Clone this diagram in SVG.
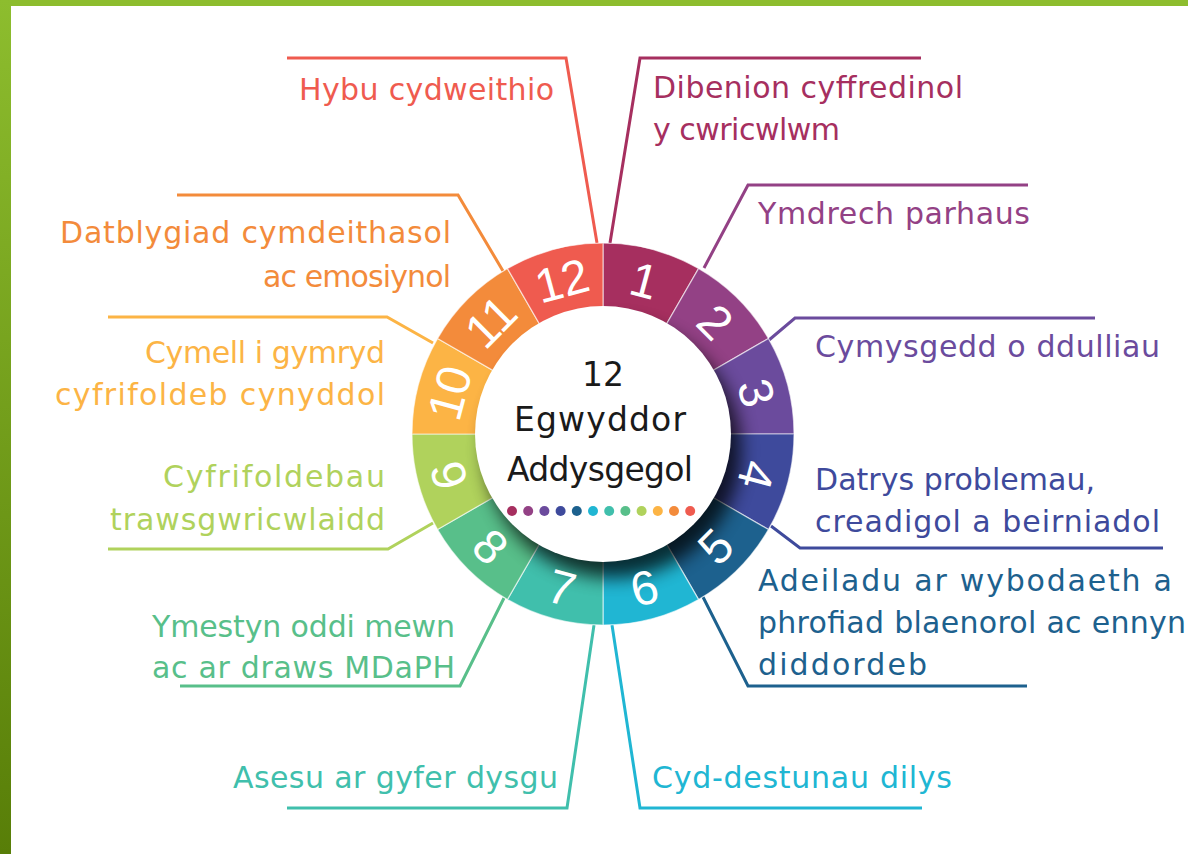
<svg xmlns="http://www.w3.org/2000/svg" width="1188" height="854" viewBox="0 0 1188 854">
<defs>
<linearGradient id="gL" x1="0" y1="0" x2="0" y2="1">
<stop offset="0" stop-color="#8dbd2e"/>
<stop offset="1" stop-color="#587e08"/>
</linearGradient>
<filter id="sh" x="-30%" y="-30%" width="160%" height="160%">
<feGaussianBlur stdDeviation="9"/>
</filter>
<style>
.lbl{font-family:"DejaVu Sans","Liberation Sans",sans-serif;font-size:30px;}
.num{font-family:"Liberation Sans",Arial,sans-serif;font-size:48px;fill:#ffffff;text-anchor:middle;}
.ctr{font-family:"DejaVu Sans","Liberation Sans",sans-serif;font-size:33px;fill:#1a1a1a;text-anchor:middle;}
.seg{stroke:#ffffff;stroke-width:1.2;stroke-opacity:0.6;}
.ld{fill:none;stroke-width:3;stroke-linejoin:miter;}
.f1{fill:#a62f5f}.f2{fill:#934185}.f3{fill:#6b4b9d}.f4{fill:#3e4a9c}.f5{fill:#1d618e}.f6{fill:#20b6d3}
.f7{fill:#40bfac}.f8{fill:#58bf8a}.f9{fill:#b0d25c}.f10{fill:#fcb445}.f11{fill:#f38b3b}.f12{fill:#ef5b4f}
.s1{stroke:#a62f5f}.s2{stroke:#934185}.s3{stroke:#6b4b9d}.s4{stroke:#3e4a9c}.s5{stroke:#1d618e}.s6{stroke:#20b6d3}
.s7{stroke:#40bfac}.s8{stroke:#58bf8a}.s9{stroke:#b0d25c}.s10{stroke:#fcb445}.s11{stroke:#f38b3b}.s12{stroke:#ef5b4f}
</style>
</defs>
<rect x="0" y="0" width="1188" height="854" fill="#ffffff"/>
<rect x="0" y="0" width="1188" height="6" fill="#8dbd2e"/>
<rect x="0" y="0" width="11" height="854" fill="url(#gL)"/>

<g id="connectors">
<polyline class="ld s12" points="287,58 566,58 597,243"/>
<polyline class="ld s1" points="921,58 640,58 610,243"/>
<polyline class="ld s2" points="1028,185 748,185 704,268"/>
<polyline class="ld s3" points="1095,318 795,318 769,340"/>
<polyline class="ld s4" points="1163,548 800,548 771,526"/>
<polyline class="ld s5" points="1027,686 748,686 703,597"/>
<polyline class="ld s6" points="922,808 640,808 612,625"/>
<polyline class="ld s7" points="287,808 567,808 594,625"/>
<polyline class="ld s8" points="180,686 460,686 504,598"/>
<polyline class="ld s9" points="108,549 388,549 433,523"/>
<polyline class="ld s10" points="108,317 387,317 433,343"/>
<polyline class="ld s11" points="177,195 458,195 503,271"/>
</g>

<g id="wheel">
<path class="seg f1" d="M603,434 L603,243 A191,191 0 0 1 698.5,268.6 Z"/>
<path class="seg f2" d="M603,434 L698.5,268.6 A191,191 0 0 1 768.4,338.5 Z"/>
<path class="seg f3" d="M603,434 L768.4,338.5 A191,191 0 0 1 794,434 Z"/>
<path class="seg f4" d="M603,434 L794,434 A191,191 0 0 1 768.4,529.5 Z"/>
<path class="seg f5" d="M603,434 L768.4,529.5 A191,191 0 0 1 698.5,599.4 Z"/>
<path class="seg f6" d="M603,434 L698.5,599.4 A191,191 0 0 1 603,625 Z"/>
<path class="seg f7" d="M603,434 L603,625 A191,191 0 0 1 507.5,599.4 Z"/>
<path class="seg f8" d="M603,434 L507.5,599.4 A191,191 0 0 1 437.6,529.5 Z"/>
<path class="seg f9" d="M603,434 L437.6,529.5 A191,191 0 0 1 412,434 Z"/>
<path class="seg f10" d="M603,434 L412,434 A191,191 0 0 1 437.6,338.5 Z"/>
<path class="seg f11" d="M603,434 L437.6,338.5 A191,191 0 0 1 507.5,268.6 Z"/>
<path class="seg f12" d="M603,434 L507.5,268.6 A191,191 0 0 1 603,243 Z"/>
<circle cx="613" cy="450" r="128" fill="#000000" opacity="0.75" filter="url(#sh)"/>
<circle cx="603" cy="434" r="128" fill="#ffffff"/>
</g>

<g id="numbers">
<text class="num" transform="translate(644.2,280.4) rotate(15)" y="17">1</text>
<text class="num" transform="translate(715.4,321.6) rotate(45)" y="17">2</text>
<text class="num" transform="translate(756.6,392.8) rotate(75)" y="17">3</text>
<text class="num" transform="translate(756.6,475.2) rotate(105)" y="17">4</text>
<text class="num" transform="translate(715.4,546.4) rotate(-45)" y="17">5</text>
<text class="num" transform="translate(644.2,587.6) rotate(-15)" y="17">6</text>
<text class="num" transform="translate(561.8,587.6) rotate(15)" y="17">7</text>
<text class="num" transform="translate(490.6,546.4) rotate(45)" y="17">8</text>
<text class="num" transform="translate(449.4,475.2) rotate(75)" y="17">9</text>
<text class="num" transform="translate(449.4,392.8) rotate(-75)" y="17">10</text>
<text class="num" transform="translate(490.6,321.6) rotate(-45)" y="17">11</text>
<text class="num" transform="translate(561.8,280.4) rotate(-15)" y="17">12</text>
</g>

<g id="center">
<text class="ctr" x="603" y="386">12</text>
<text class="ctr" x="600" y="431" textLength="172">Egwyddor</text>
<text class="ctr" x="600" y="481" textLength="186">Addysgegol</text>
<circle cx="512" cy="511" r="5" class="f1"/>
<circle cx="528.2" cy="511" r="5" class="f2"/>
<circle cx="544.4" cy="511" r="5" class="f3"/>
<circle cx="560.6" cy="511" r="5" class="f4"/>
<circle cx="576.8" cy="511" r="5" class="f5"/>
<circle cx="593" cy="511" r="5" class="f6"/>
<circle cx="609.2" cy="511" r="5" class="f7"/>
<circle cx="625.4" cy="511" r="5" class="f8"/>
<circle cx="641.6" cy="511" r="5" class="f9"/>
<circle cx="657.8" cy="511" r="5" class="f10"/>
<circle cx="674" cy="511" r="5" class="f11"/>
<circle cx="690.2" cy="511" r="5" class="f12"/>
</g>

<g id="label-12"><text class="lbl f12" x="299" y="100" textLength="255">Hybu cydweithio</text></g>
<g id="label-1">
<text class="lbl f1" x="653" y="98" textLength="310">Dibenion cyffredinol</text>
<text class="lbl f1" x="653" y="140" textLength="187">y cwricwlwm</text>
</g>
<g id="label-2"><text class="lbl f2" x="758" y="224" textLength="272">Ymdrech parhaus</text></g>
<g id="label-3"><text class="lbl f3" x="815" y="357" textLength="345">Cymysgedd o ddulliau</text></g>
<g id="label-4">
<text class="lbl f4" x="815" y="490" textLength="280">Datrys problemau,</text>
<text class="lbl f4" x="815" y="532" textLength="345">creadigol a beirniadol</text>
</g>
<g id="label-5">
<text class="lbl f5" x="758" y="591" textLength="414">Adeiladu ar wybodaeth a</text>
<text class="lbl f5" x="758" y="633" textLength="428">phrofiad blaenorol ac ennyn</text>
<text class="lbl f5" x="758" y="675" textLength="169">diddordeb</text>
</g>
<g id="label-6"><text class="lbl f6" x="652" y="788" textLength="300">Cyd-destunau dilys</text></g>
<g id="label-7"><text class="lbl f7" x="233" y="788" textLength="325">Asesu ar gyfer dysgu</text></g>
<g id="label-8">
<text class="lbl f8" x="152" y="637" textLength="303">Ymestyn oddi mewn</text>
<text class="lbl f8" x="152" y="678" textLength="303">ac ar draws MDaPH</text>
</g>
<g id="label-9">
<text class="lbl f9" x="163" y="487" textLength="222">Cyfrifoldebau</text>
<text class="lbl f9" x="110" y="530" textLength="275">trawsgwricwlaidd</text>
</g>
<g id="label-10">
<text class="lbl f10" x="145" y="363" textLength="240">Cymell i gymryd</text>
<text class="lbl f10" x="55" y="405" textLength="330">cyfrifoldeb cynyddol</text>
</g>
<g id="label-11">
<text class="lbl f11" x="60" y="243" textLength="391">Datblygiad cymdeithasol</text>
<text class="lbl f11" x="263" y="287" textLength="188">ac emosiynol</text>
</g>
</svg>
